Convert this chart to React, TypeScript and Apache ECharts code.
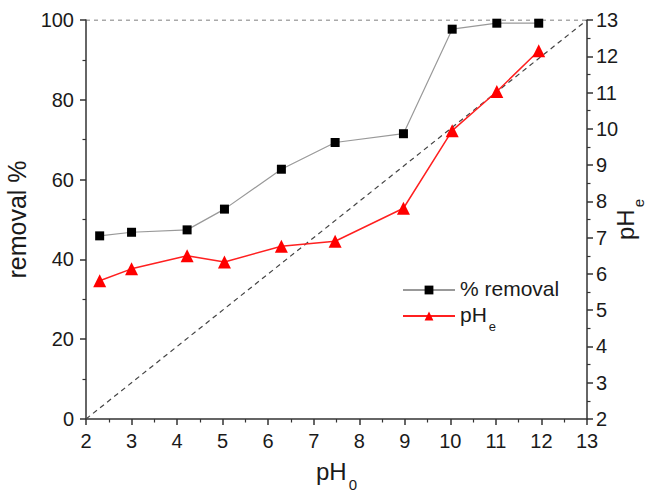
import React, { useEffect, useRef } from "react";
import * as echarts from "echarts";

// Initial pH of the solution
const ph0 = [2.3, 3.0, 4.22, 5.04, 6.29, 7.47, 8.97, 10.04, 11.02, 11.94];
// Removal efficiency (%)
const removal = [45.9, 46.8, 47.4, 52.6, 62.6, 69.3, 71.5, 97.7, 99.2, 99.2];
// Equilibrium pH
const phE = [5.81, 6.14, 6.5, 6.33, 6.76, 6.9, 7.81, 9.95, 11.03, 12.15];

// Reference lines: complete removal and pHe = pH0
const fullRemoval = [[2, 100], [13, 100]];
const identity = [[2, 2], [13, 13]];

const FONT = "'Liberation Sans', Arial, sans-serif";

export default function App() {
  const ref = useRef<HTMLDivElement>(null);

  useEffect(() => {
    if (!ref.current) return;
    const chart = echarts.init(ref.current, undefined, { renderer: "svg" });

    const axisLine = { show: true, lineStyle: { color: "#333", width: 1.5 } };
    const axisTick = { show: true, inside: false, length: 6, lineStyle: { color: "#333", width: 1.5 } };
    const minorTick = { show: true, splitNumber: 2, length: 3.5, lineStyle: { color: "#333", width: 1.2 } };
    const label = { color: "#1a1a1a", fontSize: 20, fontFamily: FONT };
    // main text plus a lowered subscript
    const nameRich = {
      m: { fontSize: 24, fontFamily: FONT, color: "#1a1a1a", lineHeight: 28, verticalAlign: "top" },
      s: { fontSize: 15, fontFamily: FONT, color: "#1a1a1a", lineHeight: 15, padding: [18, 0, 0, 2], verticalAlign: "top" },
    };

    const mk = (v: number[]) => ph0.map((x, i) => [x, v[i]]);

    chart.setOption({
      animation: false,
      backgroundColor: "#fff",
      grid: { left: 86, right: 62, top: 20, bottom: 75, containLabel: false, outerBoundsMode: "none" },
      legend: {
        orient: "vertical",
        left: 397,
        top: 273,
        itemWidth: 52,
        itemHeight: 11,
        itemGap: 5,
        selectedMode: false,
        textStyle: {
          color: "#1a1a1a",
          fontSize: 21,
          fontFamily: FONT,
          rich: {
            m: { fontSize: 21, fontFamily: FONT, color: "#1a1a1a", lineHeight: 24, verticalAlign: "top" },
            s: { fontSize: 13, fontFamily: FONT, color: "#1a1a1a", lineHeight: 13, padding: [16, 0, 0, 2], verticalAlign: "top" },
          },
        },
        formatter: (n: string) => (n === "pHe" ? "{m|pH}{s|e}" : "{m|" + n + "}"),
        data: ["% removal", "pHe"],
      },
      xAxis: {
        type: "value",
        min: 2,
        max: 13,
        interval: 1,
        name: "{m|pH}{s|0}",
        nameLocation: "middle",
        nameGap: 40,
        nameTextStyle: { rich: nameRich },
        axisLine,
        axisTick,
        minorTick,
        splitLine: { show: false },
        axisLabel: { ...label, margin: 12 },
      },
      yAxis: [
        {
          type: "value",
          min: 0,
          max: 100,
          interval: 20,
          name: "removal %",
          nameLocation: "middle",
          nameRotate: 90,
          nameGap: 46,
          nameTextStyle: { color: "#1a1a1a", fontSize: 25, fontFamily: FONT },
          axisLine,
          axisTick,
          minorTick,
          splitLine: { show: false },
          axisLabel: { ...label, margin: 12 },
        },
        {
          type: "value",
          position: "right",
          min: 2,
          max: 13,
          interval: 1,
          alignTicks: false,
          name: "{m|pH}{s|e}",
          nameLocation: "middle",
          nameRotate: 90,
          nameGap: 26,
          nameMoveOverlap: false,
          nameTextStyle: { rich: nameRich },
          axisLine,
          axisTick,
          minorTick,
          splitLine: { show: false },
          axisLabel: { ...label, margin: 9 },
        },
      ],
      series: [
        {
          name: "full",
          type: "line",
          data: fullRemoval,
          yAxisIndex: 0,
          symbol: "none",
          silent: true,
          lineStyle: { color: "#555", width: 1.2, type: [4, 4] },
          z: 1,
        },
        {
          name: "identity",
          type: "line",
          data: identity,
          yAxisIndex: 1,
          symbol: "none",
          silent: true,
          lineStyle: { color: "#444", width: 1.2, type: [5, 4] },
          z: 1,
        },
        {
          name: "% removal",
          type: "line",
          data: mk(removal),
          yAxisIndex: 0,
          symbol: "rect",
          symbolSize: 9,
          itemStyle: { color: "#000" },
          lineStyle: { color: "#999", width: 1.2 },
          z: 3,
        },
        {
          name: "pHe",
          type: "line",
          data: mk(phE),
          yAxisIndex: 1,
          symbol: "triangle",
          symbolSize: 13,
          itemStyle: { color: "#ff0000" },
          lineStyle: { color: "#ff2020", width: 1.5 },
          z: 4,
        },
      ],
    });

    return () => chart.dispose();
  }, []);

  return <div ref={ref} style={{ width: 649, height: 494, position: "absolute", left: 0, top: 0 }} />;
}
